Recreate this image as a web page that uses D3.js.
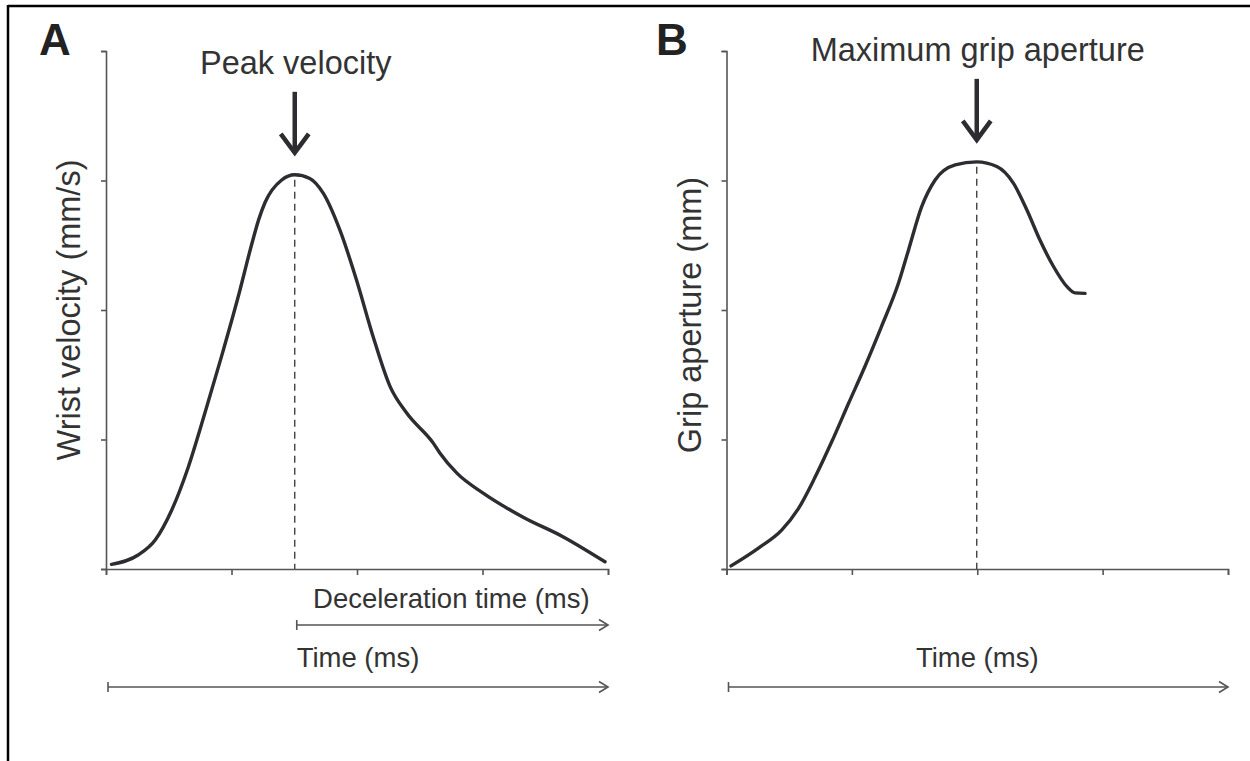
<!DOCTYPE html>
<html>
<head>
<meta charset="utf-8">
<script src="https://cdn.jsdelivr.net/npm/d3@7"></script>
<style>
  html, body { margin: 0; padding: 0; background: #fff; }
  svg { display: block; }
  text { font-family: "Liberation Sans", Arial, Helvetica, sans-serif; fill: #333; }
</style>
</head>
<body>
<script>
// Panel A: wrist velocity profile over normalised movement time
const timeA = [1.1, 6.4, 9.8, 13.1, 16.4, 19.7, 23.0, 26.4, 29.0, 30.4, 31.7, 35.0, 37.6,
               40.6, 43.3, 46.6, 49.9, 53.2, 56.6, 59.9, 65.2, 66.5, 69.9, 75.2, 83.1, 91.1, 99.4];
const velocity = [0.9, 2.7, 5.6, 11.4, 19.7, 30.1, 41.0, 52.8, 62.6, 67.4, 70.8, 75.1, 76.1,
                  75.4, 72.5, 65.4, 55.8, 44.9, 35.2, 30.1, 24.3, 22.4, 18.5, 14.6, 10.0, 6.2, 1.4];

// Panel B: grip aperture over normalised movement time
const timeB = [0.9, 6.3, 11.0, 14.3, 17.6, 21.0, 24.3, 27.6, 30.9, 34.3, 36.3, 38.9,
               41.6, 45.6, 49.9, 53.9, 57.2, 59.9, 62.5, 65.2, 67.9, 69.5, 71.5];
const aperture = [0.6, 4.0, 7.5, 11.6, 17.6, 24.6, 31.9, 39.1, 46.8, 55.2, 61.6, 69.9,
                  75.1, 78.0, 78.6, 77.7, 74.5, 69.3, 63.5, 58.4, 54.5, 53.3, 53.2];

// Unlabelled tick positions shared by both panels
const tickValues = [0, 25, 50, 75, 100];

const panelLabels = ["A", "B"];
const yLabels = ["Wrist velocity (mm/s)", "Grip aperture (mm)"];
const peakLabels = ["Peak velocity", "Maximum grip aperture"];
const timeLabel = "Time (ms)";
const decelLabel = "Deceleration time (ms)";

const W = 1250, H = 761;
const svg = d3.select("body").append("svg").attr("width", W).attr("height", H);

// frame lines along the top and left edge
svg.append("line").attr("x1", 8).attr("x2", W).attr("y1", 6).attr("y2", 6)
  .attr("stroke", "#000").attr("stroke-width", 2.5);
svg.append("line").attr("x1", 8).attr("x2", 8).attr("y1", 5).attr("y2", H)
  .attr("stroke", "#000").attr("stroke-width", 2.5);

const y = d3.scaleLinear().domain([0, 100]).range([569, 51]);
const axisColor = "#555";
const curveColor = "#2c2c31";

function hArrow(g, x0, x1, yy) {
  // tail bar, shaft and open arrowhead
  g.append("line").attr("x1", x0).attr("x2", x0).attr("y1", yy - 5).attr("y2", yy + 5)
    .attr("stroke", axisColor).attr("stroke-width", 1.6);
  g.append("line").attr("x1", x0).attr("x2", x1).attr("y1", yy).attr("y2", yy)
    .attr("stroke", axisColor).attr("stroke-width", 1.6);
  g.append("path").attr("d", `M${x1 - 9},${yy - 5.5}L${x1},${yy}L${x1 - 9},${yy + 5.5}`)
    .attr("fill", "none").attr("stroke", axisColor).attr("stroke-width", 1.6);
}

function drawPanel(opts) {
  const g = svg.append("g");
  const x = d3.scaleLinear().domain([0, 100]).range(opts.xRange);
  const x0 = opts.xRange[0];

  // axes
  const yAxis = g.append("g").attr("transform", `translate(${x0},0)`)
    .call(d3.axisLeft(y).tickValues(tickValues).tickFormat("").tickSizeInner(5).tickSizeOuter(5));
  const xAxis = g.append("g").attr("transform", `translate(0,${y(0)})`)
    .call(d3.axisBottom(x).tickValues(tickValues).tickFormat("").tickSizeInner(6).tickSizeOuter(6));
  [yAxis, xAxis].forEach(a => {
    a.selectAll("path, line").attr("stroke", axisColor).attr("stroke-width", 1.6);
  });

  // curve
  const pts = opts.t.map((t, i) => [t, opts.v[i]]);
  const line = d3.line().x(d => x(d[0])).y(d => y(d[1])).curve(d3.curveMonotoneX);
  g.append("path").datum(pts).attr("d", line)
    .attr("fill", "none").attr("stroke", curveColor).attr("stroke-width", 3.4)
    .attr("stroke-linecap", "round").attr("stroke-linejoin", "round");

  // peak marker
  const iMax = d3.maxIndex(opts.v);
  const px = x(opts.t[iMax]);
  const py = y(opts.v[iMax]);
  g.append("line").attr("x1", px).attr("x2", px).attr("y1", py + 5).attr("y2", y(0))
    .attr("stroke", "#333").attr("stroke-width", 1.3).attr("stroke-dasharray", "7,5");

  const tipY = py - 20, topY = tipY - 63;
  g.append("line").attr("x1", px).attr("x2", px).attr("y1", topY).attr("y2", tipY - 2)
    .attr("stroke", curveColor).attr("stroke-width", 4.5);
  g.append("path").attr("d", `M${px - 14},${tipY - 21}L${px},${tipY - 2}L${px + 14},${tipY - 21}`)
    .attr("fill", "none").attr("stroke", curveColor).attr("stroke-width", 4.5)
    .attr("stroke-linejoin", "miter");

  g.append("text").attr("x", px + 1).attr("y", topY - 18).attr("text-anchor", "middle")
    .attr("font-size", 32.5).text(opts.peakLabel);

  // panel letter
  g.append("text").attr("x", opts.letterX).attr("y", 55).attr("font-size", 44)
    .attr("font-weight", "bold").style("fill", "#222").text(opts.letter);

  // y label
  g.append("text").attr("transform", `translate(${opts.yLabelX},${opts.yLabelY}) rotate(-90)`)
    .attr("text-anchor", "middle").attr("font-size", 32.5).text(opts.yLabel);

  // time axis arrow
  const xEnd = opts.xRange[1];
  g.append("text").attr("x", x(50) + opts.timeDx)
    .attr("y", 667).attr("text-anchor", "middle").attr("font-size", 27.5).text(timeLabel);
  hArrow(g, x0 + 2, xEnd, 687);

  if (opts.decel) {
    g.append("text").attr("x", (px + xEnd) / 2).attr("y", 608).attr("text-anchor", "middle")
      .attr("font-size", 27.5).text(decelLabel);
    hArrow(g, px + 2, xEnd, 625);
  }
}

drawPanel({
  t: timeA, v: velocity, xRange: [106, 608], letter: panelLabels[0], letterX: 39,
  yLabel: yLabels[0], yLabelX: 80, yLabelY: 310, peakLabel: peakLabels[0],
  timeDx: 1, decel: true
});
drawPanel({
  t: timeB, v: aperture, xRange: [726.5, 1228], letter: panelLabels[1], letterX: 656,
  yLabel: yLabels[1], yLabelX: 701, yLabelY: 315, peakLabel: peakLabels[1],
  timeDx: 0, decel: false
});
</script>
</body>
</html>
